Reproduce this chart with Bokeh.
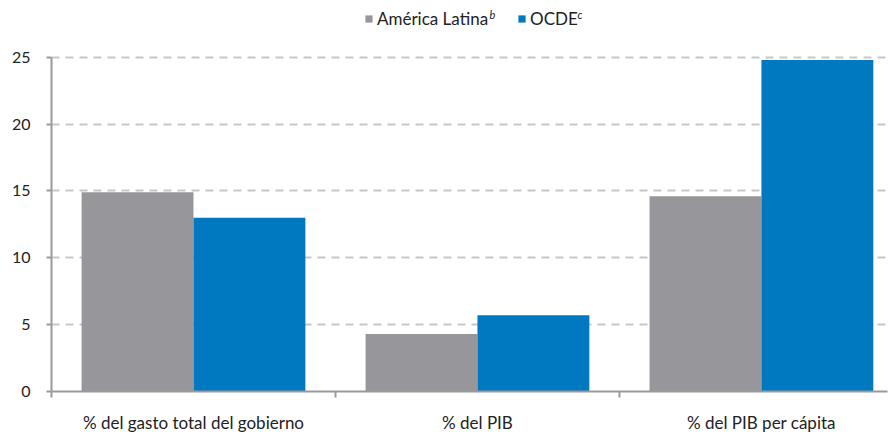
from bokeh.plotting import figure
from bokeh.models import (ColumnDataSource, Range1d, FixedTicker, Legend, LegendItem,
                          Label)
from bokeh.transform import dodge
from bokeh.embed import file_html
from bokeh.resources import INLINE

# Data
categories = ["% del gasto total del gobierno", "% del PIB", "% del PIB per cápita"]
america_latina = [14.9, 4.3, 14.6]
ocde = [13.0, 5.7, 24.8]
y_ticks = [0, 5, 10, 15, 20, 25]

GRAY = "#97979b"
BLUE = "#0079c1"
AXIS = "#9a9a9a"
TEXT = "#222222"
FONT = "Lato"

pos = [i + 0.5 for i in range(len(categories))]
source = ColumnDataSource(dict(pos=pos, al=america_latina, oc=ocde))

# the plot area runs to the top edge so the legend can sit above the 25 line;
# the y axis line itself stops at 25
p = figure(width=892, height=435, output_backend="svg", toolbar_location=None,
           x_range=Range1d(0, 2.944), y_range=Range1d(0, 29.25),
           min_border_left=51, min_border_right=5, min_border_top=0,
           min_border_bottom=43)
p.outline_line_color = None
p.background_fill_color = "white"

# bars
w = 0.394
r_al = p.vbar(x=dodge("pos", -w / 2, range=p.x_range), top="al", width=w,
              source=source, fill_color=GRAY, line_color=None)
r_oc = p.vbar(x=dodge("pos", w / 2, range=p.x_range), top="oc", width=w,
              source=source, fill_color=BLUE, line_color=None)

# x axis: labels at category centres, tick marks at the boundaries
p.xaxis.ticker = FixedTicker(ticks=pos, minor_ticks=[0, 1, 2])
p.xaxis.major_label_overrides = {x: c for x, c in zip(pos, categories)}
p.xaxis.major_tick_line_color = None
p.xaxis.minor_tick_line_color = AXIS
p.xaxis.minor_tick_line_width = 2
p.xaxis.minor_tick_in = 0
p.xaxis.minor_tick_out = 6
p.xaxis.axis_line_color = AXIS
p.xaxis.axis_line_width = 2
p.xaxis.major_label_standoff = 14
p.xaxis.major_label_text_font = FONT
p.xaxis.major_label_text_font_size = "17px"
p.xaxis.major_label_text_color = TEXT

# y axis
p.yaxis.ticker = FixedTicker(ticks=y_ticks)
p.yaxis.bounds = (0, 25)
p.yaxis.minor_tick_line_color = None
p.yaxis.major_tick_line_color = AXIS
p.yaxis.major_tick_line_width = 2
p.yaxis.major_tick_in = 0
p.yaxis.major_tick_out = 5
p.yaxis.axis_line_color = AXIS
p.yaxis.axis_line_width = 2
p.yaxis.major_label_standoff = 16
p.yaxis.major_label_text_font = FONT
p.yaxis.major_label_text_font_size = "16px"
p.yaxis.major_label_text_color = TEXT

# grid
p.xgrid.grid_line_color = None
p.ygrid.grid_line_color = "#c8c8c8"
p.ygrid.grid_line_width = 2
p.ygrid.grid_line_dash = "8 6"

# legend
legend = Legend(items=[LegendItem(label="América Latina", renderers=[r_al]),
                       LegendItem(label="OCDE", renderers=[r_oc])],
                orientation="horizontal", location=(313, 362),
                glyph_width=9, glyph_height=9, label_standoff=4, spacing=29,
                padding=0, margin=0, border_line_color=None,
                background_fill_alpha=0,
                label_text_font=FONT, label_text_font_size="17px",
                label_text_color=TEXT, label_height=18)
p.add_layout(legend, "center")

# superscript note markers on the legend entries
for txt, xs in (("b", 438), ("c", 526)):
    p.add_layout(Label(x=xs, y=384, x_units="screen", y_units="screen",
                       text=txt, text_font=FONT, text_font_size="11px",
                       text_font_style="italic", text_color=TEXT,
                       text_baseline="top"))

open("out.html", "w").write(file_html(p, INLINE))
